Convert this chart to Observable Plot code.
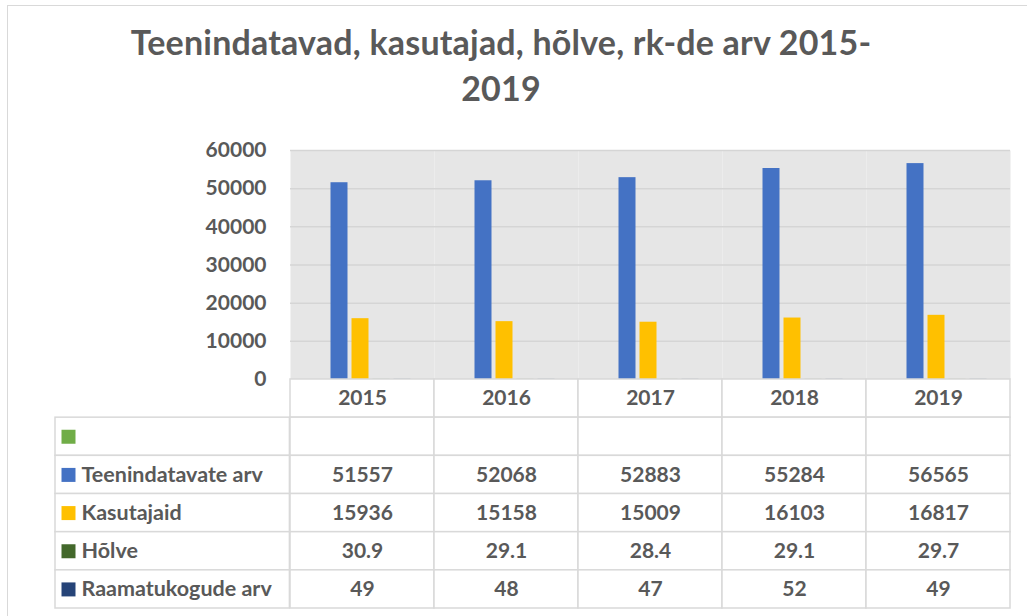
<!DOCTYPE html>
<html>
<head>
<meta charset="utf-8">
<script src="https://cdn.jsdelivr.net/npm/d3@7"></script>
<script src="https://cdn.jsdelivr.net/npm/@observablehq/plot@0.6"></script>
<style>
  html, body { margin: 0; padding: 0; background: #fff; }
  body { width: 1027px; height: 616px; position: relative; overflow: hidden; font-family: Lato, "Open Sans", sans-serif; }
  #frame { position: absolute; left: 7px; top: 5px; width: 1040px; height: 640px; border: 1px solid #d9d9d9; box-sizing: border-box; }
  #title { position: absolute; left: 0; top: 19px; width: 1002px; text-align: center; font-size: 34px; letter-spacing: 0.2px; line-height: 46px; font-weight: bold; color: #595959; }
  #bars { position: absolute; left: 0; top: 140px; }
  #table { position: absolute; left: 0; top: 378px; }
</style>
</head>
<body>
<div id="frame"></div>
<div id="title">Teenindatavad, kasutajad, hõlve, rk-de arv 2015-<br>2019</div>
<div id="bars"></div>
<div id="table"></div>
<script>
const years = ["2015", "2016", "2017", "2018", "2019"];
const series = ["", "Teenindatavate arv", "Kasutajaid", "Hõlve", "Raamatukogude arv"];
const seriesColors = ["#70AD47", "#4472C4", "#FFC000", "#43682B", "#264478"];
const blank = [];
const teenindatavate = [51557, 52068, 52883, 55284, 56565];
const kasutajaid = [15936, 15158, 15009, 16103, 16817];
const holve = [30.9, 29.1, 28.4, 29.1, 29.7];
const raamatukogud = [49, 48, 47, 52, 49];
const yTicks = [0, 10000, 20000, 30000, 40000, 50000, 60000];

const seriesValues = [blank, teenindatavate, kasutajaid, holve, raamatukogud];

const W = 1027, ML = 288, MR = 16;
const textColor = "#595959";
const gridColor = "#d9d9d9";
const fontSize = 21;

const barData = [];
seriesValues.forEach((vals, si) => vals.forEach((v, yi) => barData.push({year: years[yi], series: series[si], value: v})));

const bars = Plot.plot({
  width: W, height: 239,
  marginLeft: ML, marginRight: MR, marginTop: 10, marginBottom: 0,
  style: {fontFamily: "Lato, 'Open Sans', sans-serif", background: "transparent", overflow: "visible"},
  fx: {domain: years, padding: 0, axis: null, label: null},
  x: {domain: series, paddingInner: 0.18, paddingOuter: 0.88, axis: null},
  y: {domain: [0, 60000], axis: null},
  color: {domain: series, range: seriesColors},
  marks: [
    Plot.frame({fill: "#e6e6e6", stroke: "none"}),
    Plot.ruleY(yTicks, {stroke: "#d5d5d5", strokeWidth: 1.5}),
    Plot.axisY(yTicks, {tickSize: 0, tickPadding: 24, tickFormat: d3.format("d"), fontSize: fontSize, fontWeight: "bold", fill: textColor, label: null}),
    Plot.barY(barData, {fx: "year", x: "series", y: "value", fill: "series", dx: -1.5})
  ]
});
document.getElementById("bars").appendChild(bars);

// table
const nRows = series.length + 1;
const cellData = [];
for (let r = 0; r < nRows; r++) for (const yr of years) cellData.push({year: yr, r});
const rowData = series.map((s, i) => ({s, r: i + 1}));
const valueData = [];
seriesValues.forEach((vals, si) => vals.forEach((v, yi) => valueData.push({year: years[yi], r: si + 1, text: String(v)})));
const bw = (W - ML - MR) / years.length;

const table = Plot.plot({
  width: W, height: 232,
  marginLeft: ML, marginRight: MR, marginTop: 1, marginBottom: 2,
  style: {fontFamily: "Lato, 'Open Sans', sans-serif", background: "transparent", overflow: "visible"},
  x: {domain: years, padding: 0, axis: null},
  y: {domain: [0, nRows], range: [1, 230], axis: null},
  color: {domain: series, range: seriesColors},
  marks: [
    Plot.barY(cellData, {x: "year", y1: "r", y2: d => d.r + 1, fill: "white", stroke: gridColor, strokeWidth: 1.5}),
    Plot.barY(rowData, {x: () => years[0], y1: "r", y2: d => d.r + 1, insetLeft: -235, insetRight: bw, fill: "white", stroke: gridColor, strokeWidth: 1.5}),
    Plot.text(years, {x: d => d, y: () => 0.5, text: d => d, fontSize, fontWeight: "bold", fill: textColor}),
    Plot.text(valueData, {x: "year", y: d => d.r + 0.5, text: "text", fontSize, fontWeight: "bold", fill: textColor}),
    Plot.dot(rowData, {frameAnchor: "left", y: d => d.r + 0.5, dx: -220, symbol: "square", r: 7.9, fill: "s"}),
    Plot.text(rowData, {frameAnchor: "left", y: d => d.r + 0.5, dx: -207, textAnchor: "start", text: "s", fontSize: 21.5, fontWeight: "bold", fill: textColor})
  ]
});
document.getElementById("table").appendChild(table);
</script>
</body>
</html>
